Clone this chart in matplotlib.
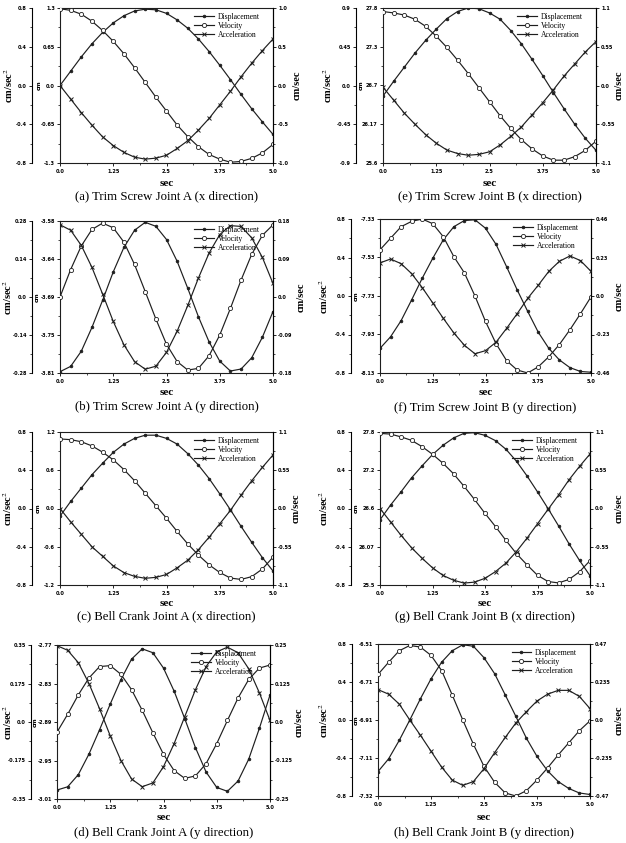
import matplotlib
matplotlib.use('Agg')
import matplotlib.pyplot as plt
from matplotlib.ticker import AutoMinorLocator
import numpy as np

plt.rcParams['mathtext.fontset'] = 'stix'

# ---------------- data ----------------
t = [0.0, 0.25, 0.5, 0.75, 1.0, 1.25, 1.5, 1.75, 2.0, 2.25, 2.5,
     2.75, 3.0, 3.25, 3.5, 3.75, 4.0, 4.25, 4.5, 4.75, 5.0]
time_ticks = [0.0, 1.25, 2.5, 3.75, 5.0]
time_labels = ['0.0', '1.25', '2.5', '3.75', '5.0']
legend_labels = ['Displacement', 'Velocity', 'Acceleration']

# (a) Trim Screw Joint A (x)
disp_a = [0.00, 0.24, 0.48, 0.70, 0.89, 1.05, 1.17, 1.25, 1.28, 1.27, 1.21, 1.10, 0.96, 0.78, 0.57, 0.34, 0.10, -0.15, -0.39, -0.61, -0.82]
vel_a = [0.99, 0.97, 0.92, 0.83, 0.71, 0.57, 0.41, 0.23, 0.04, -0.15, -0.33, -0.51, -0.66, -0.79, -0.89, -0.95, -0.99, -0.98, -0.94, -0.87, -0.76]
acc_a = [0.00, -0.14, -0.28, -0.41, -0.53, -0.62, -0.69, -0.74, -0.76, -0.75, -0.72, -0.65, -0.57, -0.46, -0.34, -0.20, -0.06, 0.09, 0.23, 0.36, 0.48]
cm_lab_a = ['1.3', '0.65', '0.0', '-0.65', '-1.3']
vel_lab_a = ['1.0', '0.5', '0.0', '-0.5', '-1.0']
acc_lab_a = ['0.8', '0.4', '0.0', '-0.4', '-0.8']

# (e) Trim Screw Joint B (x)
disp_e = [26.55, 26.76, 26.96, 27.16, 27.34, 27.50, 27.65, 27.75, 27.80, 27.79, 27.73, 27.64, 27.48, 27.29, 27.07, 26.84, 26.60, 26.37, 26.15, 25.95, 25.78]
vel_e = [1.05, 1.03, 1.00, 0.94, 0.84, 0.70, 0.54, 0.36, 0.17, -0.03, -0.23, -0.43, -0.61, -0.77, -0.90, -1.00, -1.06, -1.06, -1.01, -0.92, -0.79]
acc_e = [-0.02, -0.17, -0.32, -0.45, -0.57, -0.67, -0.75, -0.79, -0.81, -0.80, -0.77, -0.69, -0.59, -0.48, -0.34, -0.20, -0.05, 0.11, 0.25, 0.39, 0.51]
cm_lab_e = ['27.8', '27.3', '26.7', '26.17', '25.6']
vel_lab_e = ['1.1', '0.55', '0.0', '-0.55', '-1.1']
acc_lab_e = ['0.9', '0.45', '0.0', '-0.45', '-0.9']

# (b) Trim Screw Joint A (y)
disp_b = [-3.808, -3.800, -3.777, -3.741, -3.700, -3.657, -3.620, -3.594, -3.582, -3.588, -3.608, -3.641, -3.682, -3.725, -3.763, -3.792, -3.807, -3.804, -3.787, -3.756, -3.717]
vel_b = [0.000, 0.065, 0.121, 0.160, 0.175, 0.164, 0.130, 0.077, 0.013, -0.052, -0.112, -0.153, -0.173, -0.169, -0.139, -0.090, -0.027, 0.040, 0.101, 0.146, 0.171]
acc_b = [0.266, 0.246, 0.190, 0.109, 0.011, -0.090, -0.176, -0.238, -0.266, -0.255, -0.204, -0.126, -0.031, 0.070, 0.162, 0.230, 0.263, 0.260, 0.218, 0.146, 0.050]
cm_lab_b = ['-3.58', '-3.64', '-3.69', '-3.75', '-3.81']
vel_lab_b = ['0.18', '0.09', '0.0', '-0.09', '-0.18']
acc_lab_b = ['0.28', '0.14', '0.0', '-0.14', '-0.28']

# (f) Trim Screw Joint B (y)
disp_f = [-8.002, -7.942, -7.858, -7.750, -7.638, -7.534, -7.438, -7.370, -7.338, -7.334, -7.378, -7.462, -7.578, -7.698, -7.810, -7.918, -8.002, -8.062, -8.102, -8.122, -8.126]
vel_f = [0.276, 0.345, 0.414, 0.446, 0.460, 0.432, 0.354, 0.235, 0.138, 0.000, -0.152, -0.285, -0.386, -0.442, -0.460, -0.423, -0.363, -0.290, -0.202, -0.106, -0.005]
acc_f = [0.344, 0.384, 0.336, 0.232, 0.088, -0.072, -0.232, -0.384, -0.512, -0.600, -0.568, -0.480, -0.336, -0.184, -0.024, 0.112, 0.256, 0.360, 0.416, 0.368, 0.256]
cm_lab_f = ['-7.33', '-7.53', '-7.73', '-7.93', '-8.13']
vel_lab_f = ['0.46', '0.23', '0.0', '-0.23', '-0.46']
acc_lab_f = ['0.8', '0.4', '0.0', '-0.4', '-0.8']

# (c) Bell Crank Joint A (x)
disp_c = [-0.12, 0.11, 0.32, 0.53, 0.71, 0.88, 1.01, 1.10, 1.15, 1.15, 1.10, 1.01, 0.86, 0.68, 0.47, 0.23, -0.02, -0.28, -0.53, -0.77, -0.98]
vel_c = [1.00, 0.99, 0.96, 0.90, 0.81, 0.70, 0.56, 0.40, 0.22, 0.04, -0.14, -0.33, -0.51, -0.67, -0.81, -0.92, -1.00, -1.02, -0.98, -0.87, -0.70]
acc_c = [0.00, -0.14, -0.27, -0.40, -0.50, -0.60, -0.67, -0.71, -0.73, -0.72, -0.69, -0.62, -0.54, -0.43, -0.30, -0.16, -0.02, 0.14, 0.29, 0.43, 0.56]
cm_lab_c = ['1.2', '0.6', '0.0', '-0.6', '-1.2']
vel_lab_c = ['1.1', '0.55', '0.0', '-0.55', '-1.1']
acc_lab_c = ['0.8', '0.4', '0.0', '-0.4', '-0.8']

# (g) Bell Crank Joint B (x)
disp_g = [26.48, 26.70, 26.90, 27.11, 27.29, 27.46, 27.60, 27.71, 27.78, 27.79, 27.75, 27.67, 27.54, 27.36, 27.14, 26.90, 26.65, 26.39, 26.12, 25.87, 25.64]
vel_g = [1.08, 1.07, 1.03, 0.98, 0.89, 0.78, 0.65, 0.50, 0.32, 0.13, -0.07, -0.26, -0.46, -0.65, -0.81, -0.96, -1.05, -1.07, -1.02, -0.91, -0.75]
acc_g = [0.00, -0.14, -0.28, -0.41, -0.52, -0.62, -0.70, -0.75, -0.78, -0.77, -0.73, -0.66, -0.57, -0.45, -0.31, -0.16, -0.01, 0.14, 0.30, 0.44, 0.57]
cm_lab_g = ['27.8', '27.2', '26.6', '26.07', '25.5']
vel_lab_g = ['1.1', '0.55', '0.0', '-0.55', '-1.1']
acc_lab_g = ['0.8', '0.4', '0.0', '-0.4', '-0.8']

# (d) Bell Crank Joint A (y)
disp_d = [-2.996, -2.991, -2.972, -2.940, -2.902, -2.862, -2.824, -2.792, -2.776, -2.782, -2.806, -2.842, -2.885, -2.930, -2.968, -2.992, -2.998, -2.982, -2.948, -2.900, -2.848]
vel_d = [-0.033, 0.025, 0.088, 0.143, 0.180, 0.183, 0.155, 0.105, 0.038, -0.035, -0.105, -0.158, -0.183, -0.175, -0.135, -0.070, 0.005, 0.078, 0.138, 0.175, 0.185]
acc_d = [0.347, 0.326, 0.270, 0.175, 0.060, -0.063, -0.175, -0.259, -0.294, -0.277, -0.203, -0.098, 0.025, 0.147, 0.252, 0.319, 0.340, 0.315, 0.242, 0.133, 0.007]
cm_lab_d = ['-2.77', '-2.83', '-2.89', '-2.95', '-3.01']
vel_lab_d = ['0.25', '0.125', '0.0', '-0.125', '-0.25']
acc_lab_d = ['0.35', '0.175', '0.0', '-0.175', '-0.35']

# (h) Bell Crank Joint B (y)
disp_h = [-7.190, -7.122, -7.024, -6.915, -6.802, -6.696, -6.607, -6.546, -6.514, -6.522, -6.583, -6.668, -6.781, -6.895, -7.012, -7.109, -7.186, -7.243, -7.280, -7.304, -7.312]
vel_h = [0.282, 0.357, 0.428, 0.461, 0.451, 0.400, 0.306, 0.155, 0.000, -0.150, -0.287, -0.385, -0.451, -0.470, -0.437, -0.371, -0.296, -0.216, -0.141, -0.066, -0.005]
acc_h = [0.320, 0.272, 0.168, 0.000, -0.160, -0.328, -0.496, -0.632, -0.688, -0.648, -0.512, -0.344, -0.184, -0.032, 0.088, 0.200, 0.272, 0.312, 0.312, 0.248, 0.120]
cm_lab_h = ['-6.51', '-6.71', '-6.91', '-7.11', '-7.32']
vel_lab_h = ['0.47', '0.235', '0.0', '-0.235', '-0.47']
acc_lab_h = ['0.8', '0.4', '0.0', '-0.4', '-0.8']

captions = ['(a) Trim Screw Joint A (x direction)', '(e) Trim Screw Joint B (x direction)',
            '(b) Trim Screw Joint A (y direction)', '(f) Trim Screw Joint B (y direction)',
            '(c) Bell Crank Joint A (x direction)', '(g) Bell Crank Joint B (x direction)',
            '(d) Bell Crank Joint A (y direction)', '(h) Bell Crank Joint B (y direction)']

panels = [
    (disp_a, vel_a, acc_a, cm_lab_a, vel_lab_a, acc_lab_a),
    (disp_e, vel_e, acc_e, cm_lab_e, vel_lab_e, acc_lab_e),
    (disp_b, vel_b, acc_b, cm_lab_b, vel_lab_b, acc_lab_b),
    (disp_f, vel_f, acc_f, cm_lab_f, vel_lab_f, acc_lab_f),
    (disp_c, vel_c, acc_c, cm_lab_c, vel_lab_c, acc_lab_c),
    (disp_g, vel_g, acc_g, cm_lab_g, vel_lab_g, acc_lab_g),
    (disp_d, vel_d, acc_d, cm_lab_d, vel_lab_d, acc_lab_d),
    (disp_h, vel_h, acc_h, cm_lab_h, vel_lab_h, acc_lab_h),
]

# ---------------- layout (pixels) ----------------
W, H = 626, 843
# left, right, top, bottom, far-left spine x, sec y, caption y,
# x of cm/sec^2 label, x of cm label, x of cm/sec label
geoms = [
    (60, 273, 8, 163, 32, 183, 196, 9, 39, 297),
    (383, 596, 8, 163, 356, 183, 196, 328, 361, 619),
    (60, 273, 221, 373, 32, 393, 407, 8, 37, 301),
    (380, 591, 219, 373, 351, 393, 408, 324, 356, 619),
    (60, 273, 432, 585, 32, 603, 616, 8, 38, 296),
    (380, 590, 432, 585, 351, 603, 617, 324, 356, 619),
    (57, 270, 645, 799, 31, 818, 833, 8, 35, 299),
    (378, 590, 644, 796, 352, 818, 833, 324, 356, 619),
]

LC = '#1e1e1e'
TICK_FS = 3.6
SERIF = 'Liberation Serif'

fig = plt.figure(figsize=(W / 100, H / 100), dpi=100)
fig.patch.set_facecolor('white')


def style_y(axis_obj, labels, lo, hi, side):
    axis_obj.set_ylim(lo, hi)
    axis_obj.set_yticks(np.linspace(hi, lo, 5))
    axis_obj.set_yticklabels(labels, fontsize=TICK_FS, fontweight='bold')
    axis_obj.yaxis.set_minor_locator(AutoMinorLocator(2))
    axis_obj.tick_params(axis='y', which='major', direction='out', length=2.5, width=0.6, pad=1.2,
                         left=(side == 'left'), right=(side == 'right'),
                         labelleft=(side == 'left'), labelright=(side == 'right'))
    axis_obj.tick_params(axis='y', which='minor', direction='out', length=1.4, width=0.5,
                         left=(side == 'left'), right=(side == 'right'))


def sym_lim(labels):
    v = float(labels[0])
    return -v, v


for (disp, vel, acc, cml, vl, al), g, cap in zip(panels, geoms, captions):
    l, r, tp, bt, fl, sy, cy, xa, xc, xv = g
    rect = [l / W, 1 - bt / H, (r - l) / W, (bt - tp) / H]
    ax = fig.add_axes(rect)
    axv = ax.twinx()
    axa = ax.twinx()

    for s in ax.spines.values():
        s.set_linewidth(0.8)
        s.set_color(LC)
    for s in ['left', 'top', 'bottom']:
        axv.spines[s].set_visible(False)
    axv.spines['right'].set_linewidth(0.8)
    for s in ['right', 'top', 'bottom']:
        axa.spines[s].set_visible(False)
    axa.spines['left'].set_visible(True)
    axa.spines['left'].set_position(('axes', (fl - l) / (r - l)))
    axa.spines['left'].set_linewidth(0.8)
    axa.yaxis.set_ticks_position('left')

    ax.set_xlim(0, 5)
    ax.set_xticks(time_ticks)
    ax.set_xticklabels(time_labels, fontsize=TICK_FS, fontweight='bold')
    ax.xaxis.set_minor_locator(AutoMinorLocator(2))
    ax.tick_params(axis='x', which='major', direction='out', length=2.5, width=0.6, pad=1.5)
    ax.tick_params(axis='x', which='minor', direction='out', length=1.4, width=0.5)

    cm_lo, cm_hi = float(cml[-1]), float(cml[0])
    style_y(ax, cml, cm_lo, cm_hi, 'left')
    vlo, vhi = sym_lim(vl)
    style_y(axv, vl, vlo, vhi, 'right')
    alo, ahi = sym_lim(al)
    style_y(axa, al, alo, ahi, 'left')

    h1, = ax.plot(t, disp, color=LC, lw=0.85, marker='o', ms=2.0, mfc=LC, mec=LC, mew=0.5)
    h2, = axv.plot(t, vel, color=LC, lw=0.85, marker='o', ms=3.0, mfc='white', mec=LC, mew=0.6)
    h3, = axa.plot(t, acc, color=LC, lw=0.85, marker='x', ms=2.8, mec=LC, mew=0.7)

    axa.legend([h1, h2, h3], legend_labels, loc='upper left', bbox_to_anchor=(0.63, 0.97),
               frameon=False, prop={'family': SERIF, 'size': 5.5}, handlelength=2.6,
               handletextpad=0.5, labelspacing=0.15, borderpad=0, borderaxespad=0)

    ymid = 1 - (tp + bt) / 2 / H
    fig.text(xa / W, ymid, 'cm/sec$^{2}$', rotation=90, ha='center', va='center',
             family=SERIF, fontsize=7.5, fontweight='bold')
    fig.text(xc / W, ymid, 'cm', rotation=90, ha='center', va='center',
             fontsize=4.2, fontweight='bold')
    fig.text(xv / W, ymid, 'cm/sec', rotation=90, ha='center', va='center',
             family=SERIF, fontsize=7.5, fontweight='bold')

    cx = (l + r) / 2 / W
    fig.text(cx, 1 - sy / H, 'sec', ha='center', va='center', family=SERIF,
             fontsize=8, fontweight='bold')
    fig.text(cx, 1 - cy / H, cap, ha='center', va='center', family=SERIF, fontsize=9.2)

fig.savefig('out.png', dpi=100, facecolor='white')
